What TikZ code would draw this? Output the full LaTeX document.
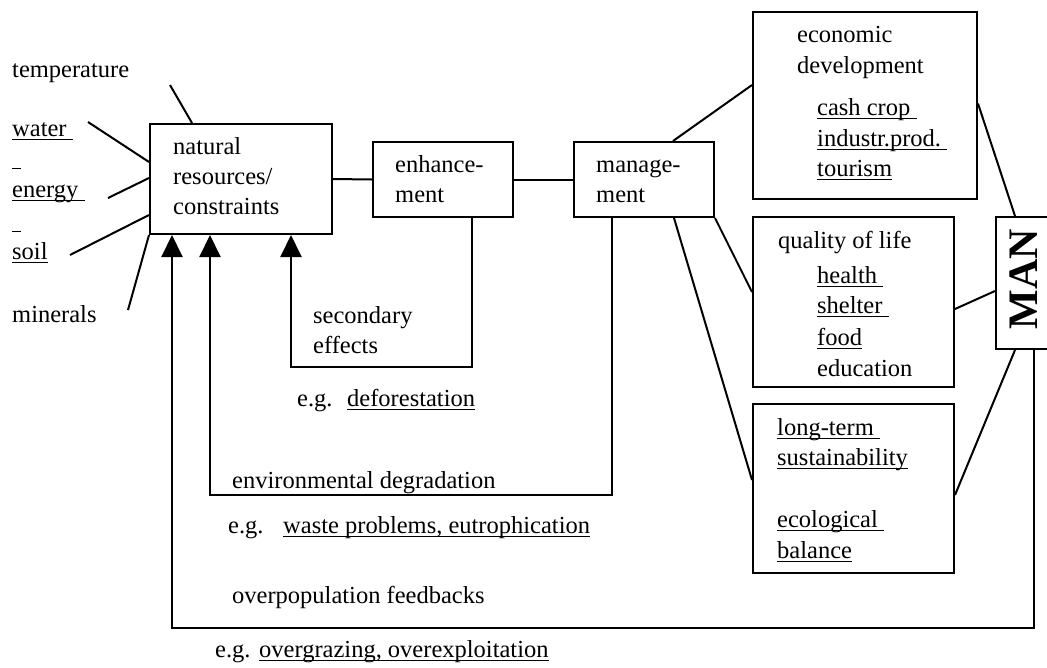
\documentclass[tikz,border=0pt]{standalone}
\usepackage{fontspec}
\setmainfont{Liberation Serif}
\usetikzlibrary{arrows.meta}

% underline at a fixed distance below the baseline, trailing spaces included
\newsavebox\ulinebox
\newcommand\uln[1]{\sbox\ulinebox{#1}\rlap{\rule[-3.6pt]{\wd\ulinebox}{1.1pt}}\usebox\ulinebox}

\tikzset{
  box/.style={draw, line width=2pt, inner sep=0pt},
  link/.style={line width=2pt},
  feedback/.style={line width=2pt, -{Triangle[width=21pt,length=22pt]}},
  txt/.style={anchor=base west, inner sep=0pt, font=\fontsize{24.5}{29}\selectfont},
}

\begin{document}
\begin{tikzpicture}[x=1pt, y=-1pt]
\path[use as bounding box] (0,0) rectangle (1047,667);
\clip (0,0) rectangle (1047,667);

% boxes
\node[box, minimum width=182pt, minimum height=110pt] (nat)  at (241,179) {};
\node[box, minimum width=140pt, minimum height=75pt]  (enh)  at (443,179.5) {};
\node[box, minimum width=140pt, minimum height=75pt]  (mgt)  at (644,179.5) {};
\node[box, minimum width=224pt, minimum height=187pt] (econ) at (865,105.5) {};
\node[box, minimum width=201pt, minimum height=170pt] (qol)  at (853.5,302) {};
\node[box, minimum width=201pt, minimum height=169pt] (lt)   at (853.5,488.5) {};
\node[box, minimum width=64pt,  minimum height=132pt] (man)  at (1028,283) {};

% text inside the boxes
\node[txt] (t-nat1) at (173,154) {natural};
\node[txt] (t-nat2) at (173,184) {resources/};
\node[txt] (t-nat3) at (173,214) {constraints};
\node[txt] (t-enh1) at (395,172) {enhance-};
\node[txt] (t-enh2) at (395,202) {ment};
\node[txt] (t-mgt1) at (596,172) {manage-};
\node[txt] (t-mgt2) at (596,202) {ment};
\node[txt] (t-eco1) at (797,42)  {economic};
\node[txt] (t-eco2) at (797,73)  {development};
\node[txt] (t-eco3) at (817,115) {\uln{cash crop\ }};
\node[txt] (t-eco4) at (817,146) {\uln{industr.prod.\ }};
\node[txt] (t-eco5) at (817,176) {\uln{tourism}};
\node[txt] (t-qol1) at (778,248) {quality of life};
\node[txt] (t-qol2) at (817,283) {\uln{health\ }};
\node[txt] (t-qol3) at (817,313) {\uln{shelter\ }};
\node[txt] (t-qol4) at (817,345) {\uln{food}};
\node[txt] (t-qol5) at (817,376) {education};
\node[txt] (t-lt1)  at (777,435) {\uln{long-term\ }};
\node[txt] (t-lt2)  at (777,465) {\uln{sustainability}};
\node[txt] (t-lt3)  at (777,527) {\uln{ecological\ }};
\node[txt] (t-lt4)  at (777,558) {\uln{balance}};
\node[rotate=90, inner sep=0pt, font=\fontsize{42}{42}\selectfont\bfseries] (t-man) at (1024,279) {MAN};

% factors on the left
\node[txt] (f-temp) at (12,77)  {temperature};
\node[txt] (f-wat)  at (12,136) {\uln{water\ }};
\node[txt] (f-d1)   at (12,165) {\uln{\hspace{9pt}}};
\node[txt] (f-en)   at (12,197) {\uln{energy\ }};
\node[txt] (f-d2)   at (12,228) {\uln{\hspace{9pt}}};
\node[txt] (f-soil) at (12,259) {\uln{soil}};
\node[txt] (f-min)  at (12,322) {minerals};

\coordinate (e-temp) at (170,85);
\coordinate (e-wat)  at (88,122);
\coordinate (e-en)   at (108,198);
\coordinate (e-soil) at (70,255);
\coordinate (e-min)  at (128,310);
\draw[link] (e-temp) -- ([xshift=-49pt]nat.north);
\draw[link] (e-wat)  -- ([yshift=17pt]nat.west);
\draw[link] (e-en)   -- ([yshift=1pt]nat.west);
\draw[link] (e-soil) -- ([yshift=-36pt]nat.west);
\draw[link] (e-min)  -- (nat.south west);

% main chain
\draw[link] (nat.east) -- (enh.west);
\draw[link] (enh.east) -- (mgt.west);
\draw[link] ([xshift=29pt]mgt.north) -- ([yshift=20.5pt]econ.west);
\draw[link] (mgt.south east) -- ([yshift=10pt]qol.west);
\draw[link] ([xshift=30pt]mgt.south) -- ([yshift=8.5pt]lt.west);
\draw[link] ([yshift=2pt]econ.east) -- ([xshift=-13pt]man.north);
\draw[link] ([yshift=-7pt]qol.east) -- ([yshift=-8pt]man.west);
\draw[link] ([yshift=-6.5pt]lt.east) -- ([xshift=-13pt]man.south);

% feedback loops
\coordinate (c-sec) at (291,367);
\coordinate (c-env) at (210,495);
\coordinate (c-pop) at (172,628);
\draw[feedback] ([xshift=29pt]enh.south) |- (c-sec) -- ([xshift=50pt]nat.south);
\draw[feedback] ([xshift=-32pt]mgt.south) |- (c-env) -- ([xshift=-31pt]nat.south);
\draw[feedback] ([xshift=6pt]man.south) |- (c-pop) -- ([xshift=-69pt]nat.south);

% feedback labels
\node[txt] (l-sec1) at (313,323) {secondary};
\node[txt] (l-sec2) at (313,353) {effects};
\node[txt] (l-eg1)  at (297,406) {e.g.};
\node[txt] (l-def)  at (347,406) {\uln{deforestation}};
\node[txt] (l-env)  at (232,488) {environmental degradation};
\node[txt] (l-eg2)  at (228,533) {e.g.};
\node[txt] (l-wst)  at (283,533) {\uln{waste problems, eutrophication}};
\node[txt] (l-pop)  at (232,603) {overpopulation feedbacks};
\node[txt] (l-eg3)  at (215,657) {e.g.};
\node[txt] (l-ovg)  at (259,657) {\uln{overgrazing, overexploitation}};
\end{tikzpicture}
\end{document}
